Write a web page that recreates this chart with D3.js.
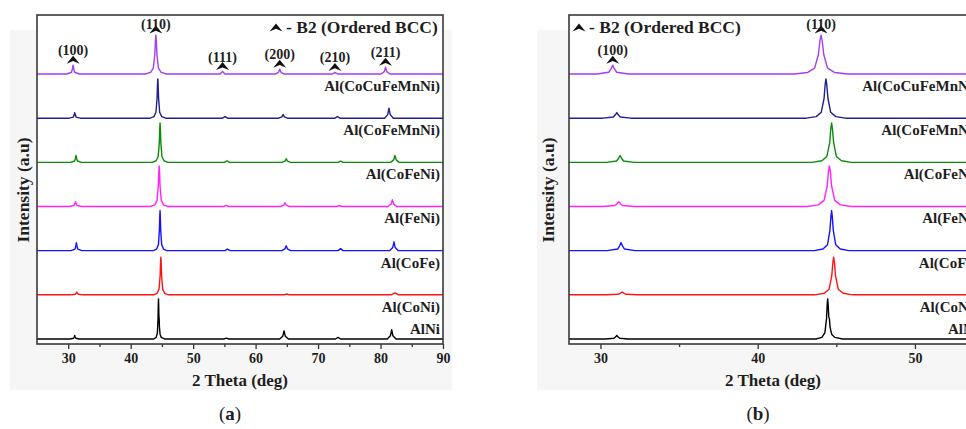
<!DOCTYPE html>
<html><head><meta charset="utf-8">
<script src="https://cdn.jsdelivr.net/npm/d3@7"></script>
<style>
body{margin:0;background:#fff}
svg{display:block}
text{font-family:"Liberation Serif","Times New Roman",serif;font-weight:bold;fill:#1e1e1e}
</style>
</head><body><svg id="c" width="966" height="429"></svg>
<script>
// ---------- data (2θ in degrees, intensity in a.u.) ----------
const samples = ["AlNi","Al(CoNi)","Al(CoFe)","Al(FeNi)","Al(CoFeNi)","Al(CoFeMnNi)","Al(CoCuFeMnNi)"];
const sampleColors = ["#000000","#ff1414","#1414ff","#ff22ff","#0a8c0a","#20208e","#a63cf0"];

const patAlNi = [[25,0],
 [30.32,0],[30.86,1.8],[30.97,5.4],[31.04,9],[31.11,5.4],[31.22,1.8],[31.76,0],
 [43.70,0],[44.08,4],[44.27,15],[44.375,50],[44.42,86],[44.45,100],[44.48,86],[44.52,55],[44.56,50],[44.60,30],[44.70,12],[44.90,4],[45.40,0],
 [54.9,0],[55.3,2],[55.7,0],
 [63.85,0],[64.35,7],[64.55,20],[64.75,7],[65.25,0],
 [72.8,0],[73.2,4],[73.6,0],
 [81.08,0],[81.58,8],[81.78,23],[81.98,8],[82.48,0],
 [90,0]];
const patCoNi = [[25,0],
 [30.38,0],[31.13,1.4],[31.28,4.2],[31.38,7],[31.48,4.2],[31.63,1.4],[32.38,0],
 [43.63,0],[44.23,3.8],[44.54,14.1],[44.71,47],[44.78,80.8],[44.83,94],[44.88,80.8],[44.95,47],[45.12,14.1],[45.43,3.8],[46.03,0],
 [64.6,0],[65.0,2],[65.4,0],
 [81.7,0],[82.3,5],[82.9,0],
 [90,0]];
const patCoFe = [[25,0],
 [30.43,0],[31.09,4],[31.22,12],[31.31,20],[31.40,12],[31.53,4],[32.19,0],
 [43.60,0],[44.15,4],[44.44,15],[44.59,50],[44.66,86],[44.70,100],[44.74,86],[44.81,50],[44.96,15],[45.25,4],[45.80,0],
 [55.1,0],[55.5,4],[55.9,0],
 [64.2,0],[64.7,4.2],[64.9,12],[65.1,4.2],[65.6,0],
 [73.2,0],[73.6,5],[74.0,0],
 [81.45,0],[81.95,7.7],[82.15,22],[82.35,7.7],[82.85,0],
 [90,0]];
const patFeNi = [[25,0],
 [30.16,0],[30.91,2.4],[31.06,7.2],[31.16,12],[31.26,7.2],[31.41,2.4],[32.16,0],
 [43.16,0],[43.86,4],[44.22,15.2],[44.42,50.5],[44.50,86.9],[44.56,101],[44.62,86.9],[44.70,50.5],[44.90,15.2],[45.26,4],[45.96,0],
 [54.9,0],[55.3,3],[55.7,0],
 [64.0,0],[64.5,3.2],[64.7,9],[64.9,3.2],[65.4,0],
 [73.0,0],[73.4,2.5],[73.8,0],
 [81.2,0],[81.7,6],[81.9,17],[82.1,6],[82.6,0],
 [90,0]];
const patCoFeNi = [[25,0],
 [30.37,0],[31.03,3.4],[31.16,10.2],[31.25,17],[31.34,10.2],[31.47,3.4],[32.13,0],
 [43.45,0],[44.08,3.9],[44.40,14.7],[44.58,49],[44.65,84.3],[44.70,98],[44.75,84.3],[44.83,49],[45.00,14.7],[45.33,3.9],[45.95,0],
 [55.0,0],[55.4,4],[55.8,0],
 [64.2,0],[64.7,3.2],[64.9,9],[65.1,3.2],[65.6,0],
 [73.2,0],[73.6,3],[74.0,0],
 [81.6,0],[82.1,6],[82.3,17],[82.5,6],[83.0,0],
 [90,0]];
const patCoFeMnNi = [[25,0],
 [30.16,0],[30.82,2.8],[30.95,8.4],[31.04,14],[31.13,8.4],[31.26,2.8],[31.92,0],
 [43.09,0],[43.72,3.9],[44.04,14.7],[44.22,49],[44.29,84.3],[44.34,98],[44.39,84.3],[44.47,49],[44.64,14.7],[44.97,3.9],[45.59,0],
 [54.7,0],[55.1,4],[55.5,0],
 [63.7,0],[64.2,3.2],[64.4,9],[64.6,3.2],[65.1,0],
 [72.7,0],[73.1,4],[73.5,0],
 [80.65,0],[81.15,8.8],[81.35,25],[81.55,8.8],[82.05,0],
 [90,0]];
const patCoCuFeMnNi = [[25,0],
 [29.78,0],[30.53,4.4],[30.68,13.2],[30.78,22],[30.88,13.2],[31.03,4.4],[31.78,0],
 [42.33,0],[43.18,3.9],[43.62,14.6],[43.86,48.5],[43.96,83.4],[44.03,97],[44.10,83.4],[44.20,48.5],[44.44,14.6],[44.88,3.9],[45.73,0],
 [54.3,0],[54.7,6],[55.1,0],
 [63.16,0],[63.66,4.2],[63.86,12],[64.06,4.2],[64.56,0],
 [72.3,0],[72.7,4],[73.1,0],
 [80.1,0],[80.6,6],[80.8,17],[81.0,6],[81.5,0],
 [90,0]];
const patterns = [patAlNi, patCoNi, patCoFe, patFeNi, patCoFeNi, patCoFeMnNi, patCoCuFeMnNi];

// B2 reflections marked on the top pattern
const millerLabels = ["(100)","(110)","(111)","(200)","(210)","(211)"];
const millerPos = [30.78, 44.03, 54.7, 63.86, 72.7, 80.8];
const millerI = [22, 97, 6, 12, 4, 17];

const ticksA = [30,40,50,60,70,80,90], minorA = [35,45,55,65,75,85];
const ticksB = [30,40,50], minorB = [35,45,55];
const stackStep = 110;
const yDomain = [-12.5, 807];

// ---------- drawing ----------
const svg = d3.select("#c");
const chevron = "M0,-4.5 L6.5,3.5 L0,0.8 L-6.5,3.5 Z";

function drawPanel(cfg, idx) {
  const g = svg.append("g");
  g.append("rect").attr("x", cfg.bg[0]).attr("y", cfg.bg[1]).attr("width", cfg.bg[2]).attr("height", cfg.bg[3]).attr("fill", "#f6f6f6");
  const x = d3.scaleLinear().domain(cfg.domain).range([cfg.left, cfg.right]);
  const y = d3.scaleLinear().domain(yDomain).range([cfg.bottom, cfg.top]);
  g.append("rect").attr("x", cfg.left).attr("y", cfg.top).attr("width", cfg.right - cfg.left).attr("height", cfg.bottom - cfg.top).attr("fill", "#fff");
  const cid = "clip" + idx;
  g.append("clipPath").attr("id", cid).append("rect")
    .attr("x", cfg.left).attr("y", cfg.top).attr("width", cfg.right - cfg.left).attr("height", cfg.bottom - cfg.top);
  const plot = g.append("g").attr("clip-path", `url(#${cid})`);
  patterns.forEach((pat, i) => {
    const off = i * stackStep;
    const line = d3.line().x(d => x(d[0])).y(d => y(d[1] + off));
    plot.append("path").attr("d", line(pat)).attr("fill", "none")
      .attr("stroke", sampleColors[i]).attr("stroke-width", 1.4).attr("stroke-linejoin", "round");
  });
  // sample labels
  samples.forEach((s, i) => {
    const base = y(i * stackStep);
    g.append("text").attr("x", cfg.right - 3).attr("y", i === 0 ? base - 5 : base + 17)
      .attr("text-anchor", "end").attr("font-size", 15).text(s);
  });
  // reflection markers
  const top = (patterns.length - 1) * stackStep;
  millerPos.forEach((p, k) => {
    if (p < cfg.domain[0] || p > cfg.domain[1]) return;
    const px = x(p), py = y(millerI[k] + top) - 5;
    g.append("path").attr("d", chevron).attr("transform", `translate(${px},${py})`).attr("fill", "#111");
    g.append("text").attr("x", px).attr("y", py - (k === 1 ? 1 : 5)).attr("text-anchor", "middle")
      .attr("font-size", 14).text(millerLabels[k]);
  });
  // legend
  g.append("path").attr("d", chevron).attr("transform", `translate(${cfg.legend[0]},${cfg.legend[1] - 5})`).attr("fill", "#111");
  g.append("text").attr("x", cfg.legend[0] + 10).attr("y", cfg.legend[1]).attr("font-size", 17.5).text("- B2 (Ordered BCC)");
  // axes
  const ax = g.append("g").attr("transform", `translate(0,${cfg.bottom})`)
    .call(d3.axisBottom(x).tickValues(cfg.ticks).tickSize(5).tickPadding(4).tickFormat(d3.format("d")));
  ax.select(".domain").remove();
  ax.selectAll("line").attr("stroke", "#333").attr("stroke-width", 1.3);
  ax.selectAll("text").attr("font-size", 14).attr("font-family", null).attr("fill", "#1e1e1e");
  const axm = g.append("g").attr("transform", `translate(0,${cfg.bottom})`)
    .call(d3.axisBottom(x).tickValues(cfg.minor.filter(v => v <= cfg.domain[1])).tickSize(3).tickFormat(""));
  axm.select(".domain").remove();
  axm.selectAll("line").attr("stroke", "#333").attr("stroke-width", 1.3);
  // frame
  g.append("rect").attr("x", cfg.left).attr("y", cfg.top).attr("width", cfg.right - cfg.left).attr("height", cfg.bottom - cfg.top)
    .attr("fill", "none").attr("stroke", "#3a3a3a").attr("stroke-width", 1.6);
  // titles
  g.append("text").attr("x", cfg.xTitle).attr("y", 386).attr("text-anchor", "middle").attr("font-size", 17).text("2 Theta (deg)");
  g.append("text").attr("transform", `translate(${cfg.yTitle},190) rotate(-90)`).attr("text-anchor", "middle")
    .attr("font-size", 17.5).text("Intensity (a.u)");
  const cap = g.append("text").attr("x", cfg.capX).attr("y", 420).attr("text-anchor", "middle")
    .attr("font-size", 19).style("font-weight", "normal");
  cap.append("tspan").text("(");
  cap.append("tspan").style("font-weight", "bold").text(cfg.cap);
  cap.append("tspan").text(")");
}

drawPanel({domain: [25, 90], left: 37, right: 443, top: 15, bottom: 344, ticks: ticksA, minor: minorA,
  bg: [10, 30, 442, 360], legend: [276, 33], xTitle: 240, yTitle: 29, capX: 230, cap: "a"}, 0);
drawPanel({domain: [28, 54.2], left: 569, right: 981, top: 15, bottom: 344, ticks: ticksB, minor: minorB,
  bg: [537, 30, 440, 360], legend: [579, 33], xTitle: 773, yTitle: 554, capX: 758, cap: "b"}, 1);
</script></body></html>
